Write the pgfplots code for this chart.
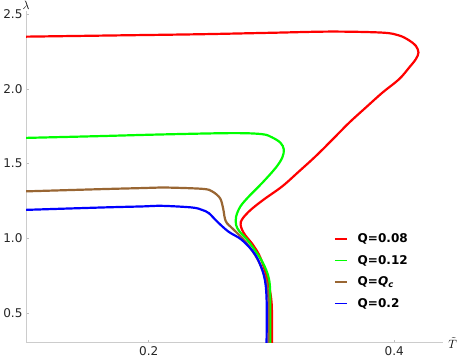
\documentclass[border=0pt]{standalone}
\usepackage{fontspec}
\setmainfont{DejaVu Sans}
\usepackage{pgfplots}
\pgfplotsset{compat=1.18}
\definecolor{qred}{rgb}{1,0,0}
\definecolor{qgreen}{rgb}{0,1,0}
\definecolor{qbrown}{rgb}{0.6,0.4,0.2}
\definecolor{qblue}{rgb}{0,0,1}
\begin{document}
\begin{tikzpicture}
\begin{axis}[
  scale only axis,
  width=415.7bp, height=331bp,
  xmin=0.1, xmax=0.44, ymin=0.3, ymax=2.525,
  axis x line=bottom, axis y line=left,
  axis line style={draw=black!20, line width=0.6pt, -},
  xtick={0.2,0.4}, ytick={0.5,1.0,1.5,2.0,2.5},
  tick align=inside, major tick length=3bp,
  tick style={draw=black!25, line width=0.5pt},
  /pgf/number format/assume math mode=true,
  /pgf/number format/.cd, fixed, fixed zerofill, precision=1, /pgfplots/.cd,
  tick label style={font=\fontsize{12bp}{14bp}\selectfont, text=black!85},
  every axis y label/.style={at={(axis description cs:0.0,1.0)}, anchor=south, inner sep=1pt, font=\fontsize{13bp}{15bp}\selectfont},
  every axis x label/.style={at={(axis description cs:1,0)}, anchor=west, inner sep=1pt, xshift=4bp, font=\fontsize{13bp}{15bp}\selectfont},
  ylabel={$\lambda$}, xlabel={$\tilde{T}$},
  legend style={draw=none, fill=none, at={(0.738,0.334)}, anchor=north west,
    font=\fontsize{12bp}{14bp}\selectfont\bfseries, row sep=7bp, inner sep=0pt,
    column sep=8bp},
  legend cell align=left,
  legend image code/.code={\draw[#1, line width=1.5pt, line cap=butt] (0bp,0bp) -- (12bp,0bp);},
  every axis plot/.append style={line width=2.2pt, smooth, tension=0.55},
]
\addplot[draw=qred] coordinates {
(0.100,2.350) (0.170,2.358) (0.240,2.366) (0.300,2.376) (0.349,2.384)
(0.3904,2.377) (0.4040,2.358) (0.4122,2.325) (0.4176,2.289) (0.4198,2.244)
(0.4176,2.199) (0.4122,2.143) (0.4040,2.065) (0.3904,1.975) (0.3767,1.874)
(0.3632,1.773) (0.3496,1.660) (0.3360,1.549) (0.3225,1.448) (0.3087,1.347)
(0.2930,1.255) (0.2815,1.178) (0.2750,1.108) (0.2772,1.038)
(0.2850,0.955) (0.2910,0.870) (0.2966,0.730) (0.2998,0.596) (0.3005,0.460)
(0.3005,0.300)
};
\addlegendentry{Q=0.08}
\addplot[draw=qgreen] coordinates {
(0.100,1.672) (0.160,1.684) (0.210,1.695) (0.268,1.704) (0.2924,1.697)
(0.3006,1.675) (0.3074,1.639) (0.3101,1.594) (0.3087,1.538) (0.3033,1.470)
(0.2924,1.370) (0.2816,1.280) (0.2747,1.213) (0.2712,1.145) (0.2712,1.089)
(0.2740,1.045) (0.2815,0.977) (0.2925,0.843) (0.2979,0.730) (0.2990,0.600)
(0.2990,0.300)
};
\addlegendentry{Q=0.12}
\addplot[draw=qbrown] coordinates {
(0.100,1.314) (0.1618,1.329) (0.1944,1.336) (0.2108,1.340) (0.2434,1.331)
(0.2516,1.314) (0.2581,1.268) (0.2606,1.200) (0.2620,1.134) (0.2638,1.100)
(0.2680,1.067) (0.2788,0.977) (0.2883,0.865) (0.2951,0.730) (0.2975,0.600)
(0.2975,0.300)
};
\addlegendentry{Q=\textit{Q}\textsubscript{\textit{c}}}
\addplot[draw=qblue] coordinates {
(0.100,1.190) (0.1618,1.206) (0.1944,1.213) (0.2108,1.217) (0.2353,1.206)
(0.2434,1.190) (0.2490,1.168) (0.2557,1.112) (0.2650,1.044) (0.2760,0.988)
(0.2870,0.887) (0.2938,0.752) (0.2960,0.600) (0.2960,0.300)
};
\addlegendentry{Q=0.2}
\end{axis}
\end{tikzpicture}
\end{document}
